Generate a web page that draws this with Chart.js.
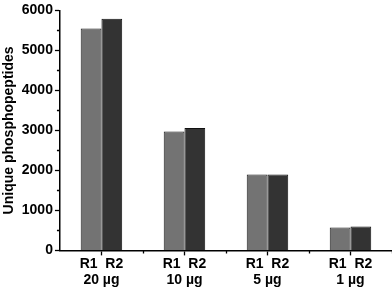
<!DOCTYPE html>
<html><head><meta charset="utf-8">
<script src="https://cdn.jsdelivr.net/npm/chart.js@4/dist/chart.umd.min.js"></script>
<style>html,body{margin:0;padding:0;background:#fff}#wrap{width:392px;height:289px}</style>
</head><body><div id="wrap"><canvas id="c" width="392" height="289"></canvas></div>
<script>
const categories = ['20 µg', '10 µg', '5 µg', '1 µg'];
const seriesNames = ['R1', 'R2'];
const r1Values = [5550, 2970, 1900, 570];
const r2Values = [5790, 3060, 1900, 595];
const yTicks = [0, 1000, 2000, 3000, 4000, 5000, 6000];

const minorTicks = {
  id: 'minorTicks',
  afterDraw(chart) {
    const ctx = chart.ctx, x = chart.scales.x, y = chart.scales.y;
    ctx.save();
    ctx.strokeStyle = '#000'; ctx.lineWidth = 1.3;
    ctx.beginPath();
    for (let i = 0; i < yTicks.length - 1; i++) {
      const py = Math.round(y.getPixelForValue((yTicks[i] + yTicks[i + 1]) / 2)) + 0.5;
      ctx.moveTo(x.left, py); ctx.lineTo(x.left - 3, py);
    }
    const half = (x.getPixelForValue(1) - x.getPixelForValue(0)) / 2;
    for (let i = 0; i < categories.length; i++) {
      const px = Math.round(x.getPixelForValue(i) + half) + 0.5;
      ctx.moveTo(px, y.bottom); ctx.lineTo(px, y.bottom + 3);
    }
    ctx.stroke();
    ctx.restore();
  }
};

new Chart(document.getElementById('c'), {
  type: 'bar',
  data: {
    labels: categories.map(c => [seriesNames.join('  '), c]),
    datasets: [
      { label: seriesNames[0], data: r1Values, backgroundColor: '#737373', borderColor: '#1a1a1a', borderWidth: 1, categoryPercentage: 0.5, barPercentage: 1.0 },
      { label: seriesNames[1], data: r2Values, backgroundColor: '#333333', borderColor: '#111', borderWidth: 1, categoryPercentage: 0.5, barPercentage: 1.0 }
    ]
  },
  options: {
    responsive: false, animation: false,
    layout: { padding: { top: -4, right: 0, left: 1, bottom: 0 } },
    plugins: { legend: { display: false }, tooltip: { enabled: false } },
    scales: {
      x: {
        offset: true,
        grid: { display: true, drawOnChartArea: false, offset: false, tickLength: 5, tickColor: '#000', tickWidth: 1.3 },
        border: { color: '#000', width: 1.5 },
        ticks: { color: '#000', font: { family: 'Liberation Sans', weight: 'bold', size: 14 }, padding: 0, maxRotation: 0 }
      },
      y: {
        min: 0, max: 6000,
        afterBuildTicks(s) { s.ticks = yTicks.map(v => ({ value: v })); },
        grid: { display: true, drawOnChartArea: false, tickLength: 5, tickColor: '#000', tickWidth: 1.3 },
        border: { color: '#000', width: 1.5 },
        ticks: { color: '#000', font: { family: 'Liberation Sans', weight: 'bold', size: 14 }, padding: 2, callback: v => String(v) },
        title: { display: true, text: 'Unique phosphopeptides', color: '#000', font: { family: 'Liberation Sans', weight: 'bold', size: 14 }, padding: { top: 0, bottom: 2 } }
      }
    }
  },
  plugins: [minorTicks]
});
</script></body></html>
